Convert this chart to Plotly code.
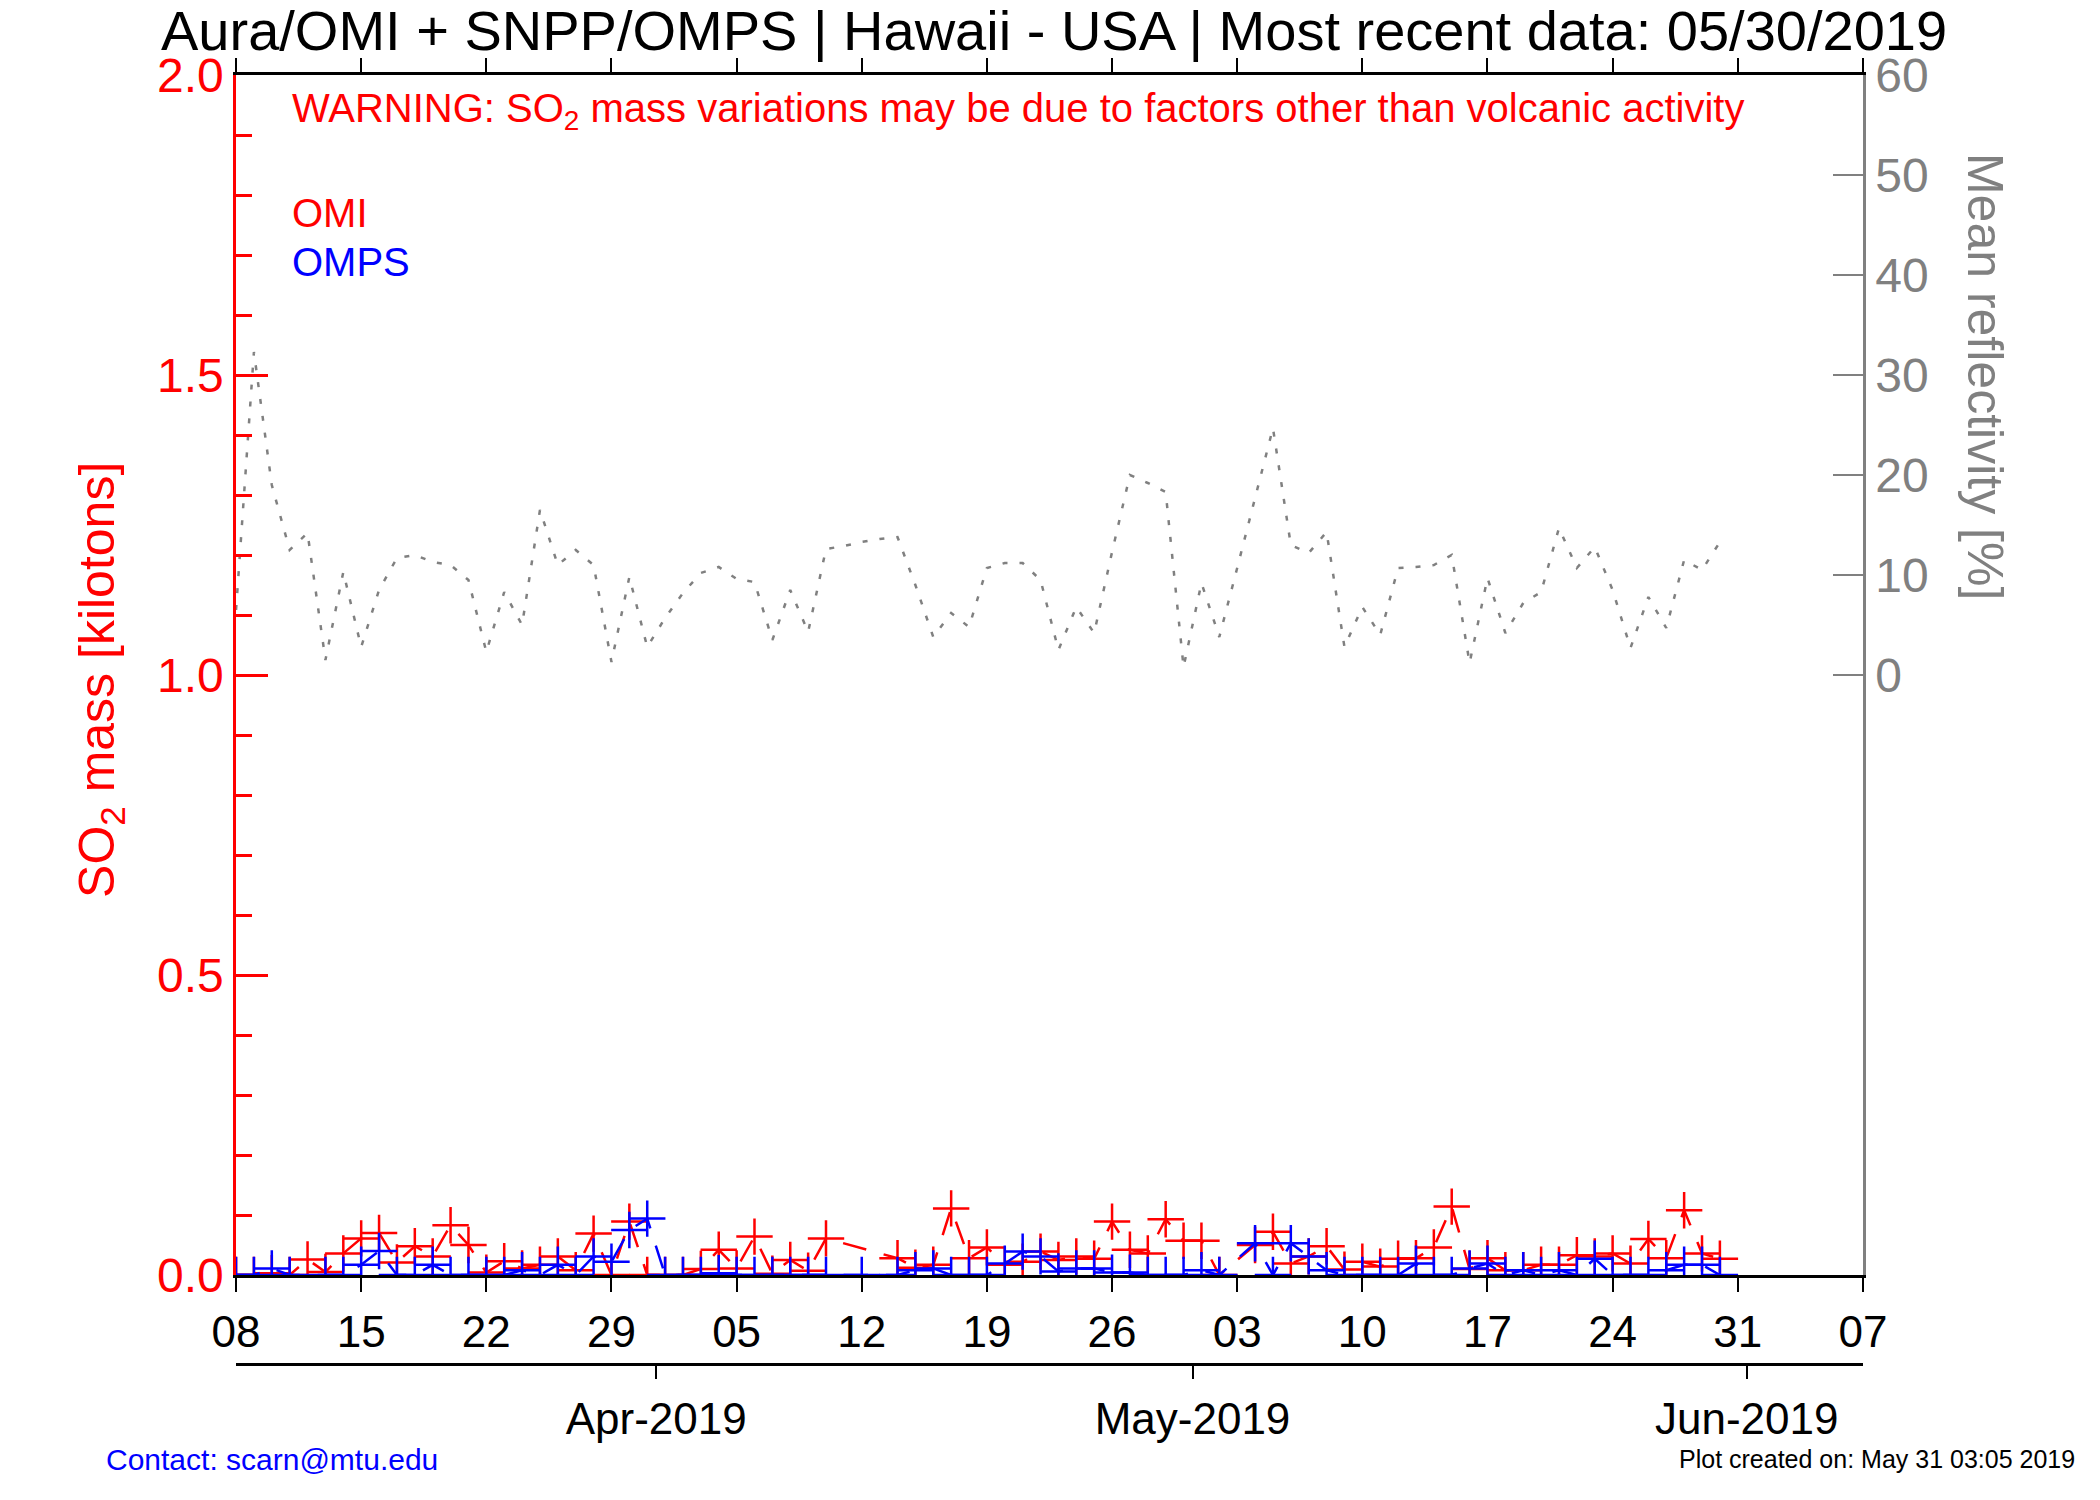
import plotly.graph_objects as go

# daily dates, 08 Mar 2019 .. 30 May 2019
dates = [
    '2019-03-08', '2019-03-09', '2019-03-10', '2019-03-11', '2019-03-12', '2019-03-13', '2019-03-14',
    '2019-03-15', '2019-03-16', '2019-03-17', '2019-03-18', '2019-03-19', '2019-03-20', '2019-03-21',
    '2019-03-22', '2019-03-23', '2019-03-24', '2019-03-25', '2019-03-26', '2019-03-27', '2019-03-28',
    '2019-03-29', '2019-03-30', '2019-03-31', '2019-04-01', '2019-04-02', '2019-04-03', '2019-04-04',
    '2019-04-05', '2019-04-06', '2019-04-07', '2019-04-08', '2019-04-09', '2019-04-10', '2019-04-11',
    '2019-04-12', '2019-04-13', '2019-04-14', '2019-04-15', '2019-04-16', '2019-04-17', '2019-04-18',
    '2019-04-19', '2019-04-20', '2019-04-21', '2019-04-22', '2019-04-23', '2019-04-24', '2019-04-25',
    '2019-04-26', '2019-04-27', '2019-04-28', '2019-04-29', '2019-04-30', '2019-05-01', '2019-05-02',
    '2019-05-03', '2019-05-04', '2019-05-05', '2019-05-06', '2019-05-07', '2019-05-08', '2019-05-09',
    '2019-05-10', '2019-05-11', '2019-05-12', '2019-05-13', '2019-05-14', '2019-05-15', '2019-05-16',
    '2019-05-17', '2019-05-18', '2019-05-19', '2019-05-20', '2019-05-21', '2019-05-22', '2019-05-23',
    '2019-05-24', '2019-05-25', '2019-05-26', '2019-05-27', '2019-05-28', '2019-05-29', '2019-05-30',
]

# SO2 mass [kt], OMI (None = no data)
omi_so2 = [
    0.0, 0.0, 0.003, 0.0, 0.026, 0.005, 0.036,
    0.061, 0.07, 0.021, 0.048, 0.031, 0.083, 0.05,
    0.004, 0.023, 0.011, 0.017, 0.031, 0.008, 0.069,
    0.0, 0.089, 0.0, 0.0, 0.0, 0.01, 0.042,
    0.011, 0.064, 0.002, 0.025, 0.007, 0.061, None,
    None, None, 0.028, 0.012, 0.017, 0.111, 0.028,
    0.046, 0.017, 0.022, 0.039, 0.025, 0.031, 0.027,
    0.089, 0.042, 0.036, 0.093, 0.057, 0.057, 0.0,
    None, 0.05, 0.072, 0.019, 0.031, 0.048, 0.009,
    0.022, 0.014, 0.027, 0.028, 0.046, 0.114, 0.01,
    0.028, 0.008, 0.008, 0.017, 0.017, 0.033, 0.031,
    0.036, 0.019, 0.06, 0.028, 0.108, 0.036, 0.027,
]

# SO2 mass [kt], OMPS
omps_so2 = [
    0.0, 0.0, 0.011, 0.0, None, 0.0, 0.0,
    0.017, 0.04, 0.0, 0.0, 0.017, 0.0, 0.0,
    0.0, 0.0, 0.008, 0.0, 0.017, 0.0, 0.031,
    0.022, 0.075, 0.094, 0.0, 0.0, 0.0, 0.003,
    0.0, 0.0, 0.0, 0.0, 0.0, 0.0, None,
    0.0, None, 0.0, 0.008, 0.011, 0.0, 0.0,
    0.0, 0.019, 0.039, 0.031, 0.006, 0.011, 0.011,
    0.004, 0.004, 0.0, 0.0, 0.0, 0.008, 0.0,
    None, 0.053, 0.0, 0.053, 0.031, 0.008, 0.0,
    0.0, 0.0, 0.0, 0.019, 0.0, 0.0, 0.011,
    0.019, 0.0, 0.008, 0.0, 0.008, 0.0, 0.027,
    0.0, 0.0, 0.0, 0.008, 0.017, 0.017, 0.0,
]

# mean reflectivity [%]
reflectivity = [
    6.5, 32.3, 19, 12.5, 14.2, 1.5, 10.3,
    2.8, 8.5, 11.7, 12, 11.3, 11, 9.5,
    2.3, 8.3, 5, 16.5, 11, 12.5, 11,
    1.3, 9.8, 2.8, 5.7, 8.2, 10.2, 10.8,
    9.6, 9.3, 3.5, 8.5, 4.3, 12.6, 12.9,
    13.3, 13.6, 13.8, 9, 3.8, 6.2, 4.8,
    10.7, 11.2, 11.2, 9.5, 2.5, 6.8, 4.2,
    12.3, 20, 19.2, 18.3, 0.8, 9.2, 3.8,
    10.7, 17.7, 24.7, 13, 12.2, 14.3, 2.8,
    6.8, 4, 10.7, 10.8, 11, 12, 1.2,
    9.7, 4.2, 7.2, 8.3, 14.7, 10.7, 12.8,
    8.5, 2.7, 7.8, 4.7, 11.5, 10.5, 13.3,
]

week_ticks = ['2019-03-08', '2019-03-15', '2019-03-22', '2019-03-29', '2019-04-05',
              '2019-04-12', '2019-04-19', '2019-04-26', '2019-05-03', '2019-05-10',
              '2019-05-17', '2019-05-24', '2019-05-31', '2019-06-07']
week_labels = ['08', '15', '22', '29', '05', '12', '19', '26', '03', '10', '17', '24', '31', '07']
# month boundaries sit half a day before the day ticks (julian-day axis)
month_ticks = ['2019-03-31 12:00', '2019-04-30 12:00', '2019-05-31 12:00']
month_labels = ['Apr-2019', 'May-2019', 'Jun-2019']
refl_ticks = [0, 10, 20, 30, 40, 50, 60]

FONT = 'Liberation Sans, Arial, Helvetica, sans-serif'
x_range = ['2019-03-08', '2019-06-07']

fig = go.Figure()

fig.add_trace(go.Scatter(
    x=dates, y=reflectivity, yaxis='y2', mode='lines',
    line=dict(color='#808080', width=2.5, dash='5px,12px'),
    hoverinfo='skip', showlegend=False
))

fig.add_trace(go.Scatter(
    x=dates, y=omi_so2, mode='lines+markers', connectgaps=True,
    line=dict(color='#ff0000', width=2.5, dash='24px,18px'),
    marker=dict(symbol='cross-thin', size=26, line=dict(width=2.5, color='#ff0000')),
    showlegend=False
))

fig.add_trace(go.Scatter(
    x=dates, y=omps_so2, mode='lines+markers', connectgaps=True,
    line=dict(color='#0000ff', width=2.5, dash='24px,18px'),
    marker=dict(symbol='cross-thin', size=26, line=dict(width=2.5, color='#0000ff')),
    showlegend=False
))

# empty trace so the month axis is drawn
fig.add_trace(go.Scatter(x=x_range, y=[None, None], xaxis='x2', mode='lines',
                         showlegend=False, hoverinfo='skip'))

# margins are zero (no auto-expansion), so the domains place the frame
fig.update_layout(
    width=2100, height=1500,
    margin=dict(l=0, r=0, t=0, b=0, autoexpand=False),
    plot_bgcolor='white', paper_bgcolor='white',
    font=dict(family=FONT, color='black'),
    xaxis=dict(
        type='date', range=x_range, domain=[0.1124, 0.8871],
        tickmode='array', tickvals=week_ticks, ticktext=week_labels,
        ticks='outside', ticklen=14, tickwidth=1.5, tickcolor='black',
        showline=True, linecolor='black', linewidth=3, mirror='ticks',
        showgrid=False, zeroline=False,
        tickfont=dict(size=44, color='black'), ticklabelstandoff=2,
    ),
    xaxis2=dict(
        type='date', range=x_range, overlaying='x', anchor='free', position=0.0907,
        side='bottom',
        tickmode='array', tickvals=month_ticks, ticktext=month_labels,
        ticks='outside', ticklen=13, tickwidth=1.5, tickcolor='black',
        showline=True, linecolor='black', linewidth=3,
        showgrid=False, zeroline=False,
        tickfont=dict(size=44, color='black'), ticklabelstandoff=2,
    ),
    yaxis=dict(
        range=[0, 2], domain=[0.15, 0.95],
        tickmode='array', tickvals=[0, 0.5, 1.0, 1.5, 2.0], tickformat='.1f',
        ticks='inside', ticklen=32, tickwidth=2.5, tickcolor='#ff0000',
        minor=dict(dtick=0.1, ticks='inside', ticklen=16, tickwidth=2.5, tickcolor='#ff0000'),
        showline=True, linecolor='#ff0000', linewidth=2.5,
        showgrid=False, zeroline=False,
        tickfont=dict(size=48, color='#ff0000'),
    ),
    yaxis2=dict(
        range=[-60, 60], overlaying='y', side='right', anchor='x',
        tickmode='array', tickvals=refl_ticks,
        ticks='inside', ticklen=30, tickwidth=2, tickcolor='#808080',
        showline=True, linecolor='#808080', linewidth=2.5,
        showgrid=False, zeroline=False,
        tickfont=dict(size=48, color='#808080'),
    ),
)

annotations = [
    dict(text='Aura/OMI + SNPP/OMPS | Hawaii - USA | Most recent data: 05/30/2019',
         x=0.502, y=0.98, font=dict(size=56, color='black')),
    dict(text='WARNING: SO<sub>2</sub> mass variations may be due to factors other than volcanic activity',
         x=0.138, y=0.926, xanchor='left', font=dict(size=40, color='#ff0000')),
    dict(text='OMI', x=0.138, y=0.858, xanchor='left', font=dict(size=40, color='#ff0000')),
    dict(text='OMPS', x=0.138, y=0.8253, xanchor='left', font=dict(size=40, color='#0000ff')),
    dict(text='SO<sub>2</sub> mass [kilotons]', x=0.0481, y=0.5467, textangle=-90,
         font=dict(size=50, color='#ff0000')),
    dict(text='Mean reflectivity [%]', x=0.9455, y=0.749, textangle=90,
         font=dict(size=50, color='#808080')),
    dict(text='Contact: scarn@mtu.edu', x=0.0495, y=0.0273, xanchor='left',
         font=dict(size=30, color='#0000ff')),
    dict(text='Plot created on: May 31 03:05 2019', x=0.989, y=0.0273, xanchor='right',
         font=dict(size=25, color='black')),
]
for a in annotations:
    a.setdefault('xanchor', 'center')
    fig.add_annotation(xref='paper', yref='paper', yanchor='middle', showarrow=False, **a)

fig.write_html("out.html", config={'displayModeBar': False},
               post_script="document.body.style.margin='0';")
